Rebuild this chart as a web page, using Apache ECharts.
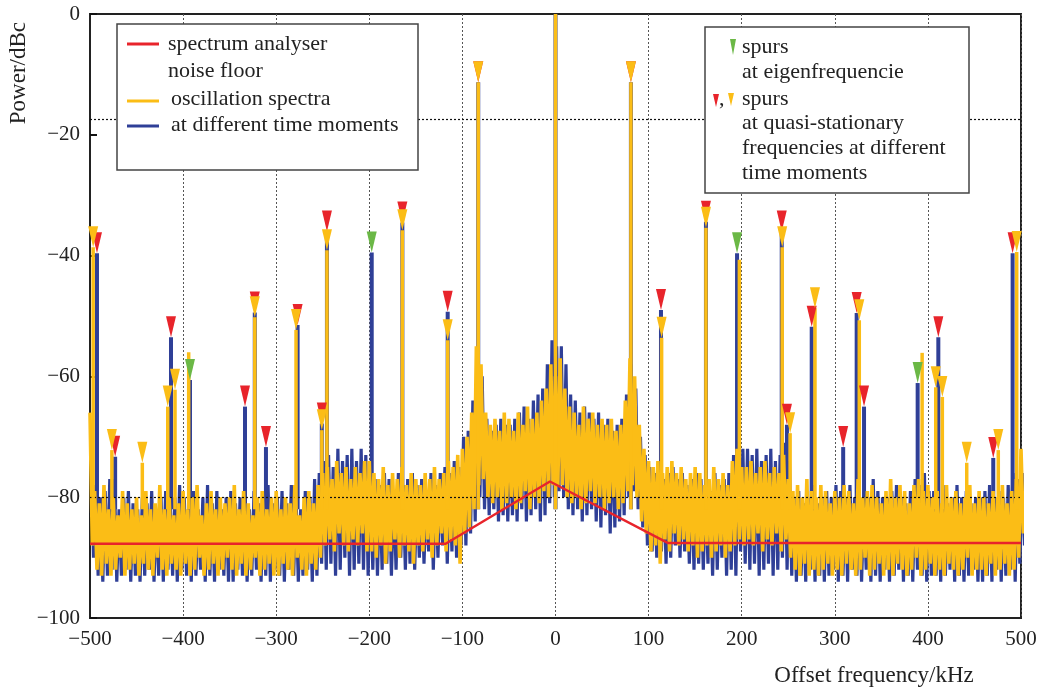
<!DOCTYPE html>
<html><head><meta charset="utf-8">
<script src="https://cdn.jsdelivr.net/npm/echarts@6/dist/echarts.min.js"></script>
<style>html,body{margin:0;padding:0;background:#fff}#c{width:1041px;height:691px}</style>
</head><body><div id="c"></div>
<script>
// ---- noise envelopes, sampled every 5 kHz from -500 to 500 kHz (dBc) ----
const noiseStart = -500, noiseStep = 5;
const yellowHi = [
-66,-79,-81,-78,-82,-80,-83,-79,-81,-82,
-80,-83,-79,-82,-81,-78,-82,-80,-83,-81,
-79,-82,-80,-78,-83,-81,-79,-82,-80,-81,
-80,-78,-82,-79,-81,-83,-80,-79,-82,-80,
-79,-82,-80,-81,-78,-83,-80,-79,-81,-78,
-76,-75,-77,-74,-76,-75,-77,-75,-76,-74,
-74,-76,-77,-75,-78,-76,-77,-75,-78,-76,
-77,-78,-76,-77,-75,-77,-76,-74,-75,-73,
-72,-70,-66,-55,-58,-66,-68,-67,-69,-66,
-67,-69,-66,-68,-65,-67,-66,-64,-62,-58,
-60,
-57,-62,-65,-66,-68,-65,-67,-66,-68,-67,
-68,-67,-69,-68,-64,-57,-60,-68,-72,-74,
-75,-74,-76,-75,-74,-76,-75,-77,-76,-75,
-76,-78,-77,-75,-77,-76,-78,-74,-72,-75,
-75,-74,-76,-75,-74,-76,-75,-76,-73,-77,
-79,-78,-80,-77,-79,-80,-78,-79,-81,-79,
-80,-78,-79,-81,-77,-80,-79,-78,-80,-81,
-79,-77,-80,-78,-79,-81,-78,-77,-79,-78,
-80,-79,-81,-78,-80,-79,-81,-80,-78,-81,
-79,-80,-81,-79,-80,-78,-81,-79,-77,-72];
const yellowLo = [
-88,-92,-93,-91,-93,-92,-90,-93,-92,-91,
-93,-91,-92,-93,-90,-92,-93,-91,-92,-93,
-91,-93,-92,-90,-93,-92,-91,-93,-92,-90,
-92,-93,-91,-93,-92,-90,-93,-92,-91,-93,
-93,-91,-92,-93,-90,-92,-93,-91,-92,-90,
-88,-87,-89,-86,-88,-89,-87,-88,-86,-89,
-89,-90,-88,-91,-89,-87,-90,-88,-89,-91,
-88,-89,-87,-90,-88,-86,-89,-87,-88,-91,
-86,-85,-82,-78,-77,-80,-81,-80,-82,-81,
-80,-82,-81,-79,-82,-80,-81,-79,-80,-78,
-78,
-78,-80,-81,-80,-82,-81,-79,-81,-80,-82,
-81,-80,-82,-81,-79,-78,-80,-84,-86,-89,
-88,-91,-87,-89,-86,-88,-87,-89,-88,-90,
-89,-88,-90,-89,-88,-90,-89,-88,-87,-88,
-87,-88,-86,-89,-87,-88,-86,-89,-87,-90,
-92,-93,-91,-93,-92,-93,-92,-91,-93,-92,
-93,-91,-92,-93,-92,-90,-93,-92,-91,-93,
-92,-93,-91,-92,-93,-92,-90,-93,-92,-91,
-93,-92,-93,-91,-92,-93,-92,-90,-93,-92,
-92,-93,-91,-93,-92,-91,-93,-92,-90,-86];
const blueHi = [
-70,-78,-80,-79,-77,-77,-82,-80,-79,-81,
-82,-80,-81,-79,-82,-80,-79,-81,-80,-78,
-80,-81,-79,-82,-80,-78,-81,-79,-82,-80,
-79,-81,-80,-78,-82,-79,-81,-80,-78,-81,
-80,-79,-81,-78,-80,-82,-79,-80,-77,-76,
-74,-73,-75,-72,-74,-73,-72,-74,-72,-73,
-75,-77,-78,-76,-77,-79,-76,-78,-77,-76,
-78,-77,-79,-76,-78,-76,-75,-76,-74,-75,
-70,-69,-64,-56,-60,-67,-69,-68,-67,-68,
-68,-67,-66,-65,-67,-64,-63,-62,-58,-54,
-55,
-55,-58,-63,-64,-66,-65,-66,-67,-66,-68,
-67,-69,-68,-67,-63,-58,-62,-70,-73,-75,
-76,-75,-77,-76,-75,-77,-76,-78,-77,-76,
-77,-78,-79,-76,-78,-77,-76,-73,-70,-72,
-72,-73,-72,-74,-73,-72,-74,-73,-71,-74,
-80,-79,-81,-80,-78,-81,-80,-79,-80,-78,
-79,-80,-78,-80,-79,-81,-80,-77,-79,-80,
-80,-79,-78,-80,-81,-79,-77,-78,-76,-79,
-79,-80,-78,-81,-80,-78,-80,-79,-81,-80,
-80,-79,-78,-80,-79,-80,-78,-76,-77,-76];
const blueLo = [
-90,-93,-94,-93,-92,-94,-93,-92,-94,-93,
-94,-93,-92,-94,-93,-94,-92,-93,-94,-92,
-93,-94,-93,-92,-94,-93,-94,-92,-93,-94,
-94,-92,-93,-94,-93,-92,-94,-93,-94,-92,
-93,-94,-92,-93,-94,-93,-92,-94,-93,-91,
-92,-91,-93,-92,-90,-93,-92,-91,-92,-93,
-92,-93,-92,-91,-93,-92,-90,-92,-91,-92,
-90,-91,-89,-92,-90,-88,-91,-89,-90,-88,
-88,-86,-84,-80,-82,-83,-82,-84,-83,-84,
-83,-84,-82,-84,-83,-82,-84,-83,-81,-80,
-79,
-80,-82,-83,-82,-84,-83,-82,-84,-85,-83,
-86,-85,-84,-83,-80,-79,-82,-85,-88,-89,
-90,-89,-91,-90,-88,-90,-89,-91,-92,-91,
-92,-91,-93,-92,-90,-93,-92,-93,-89,-91,
-92,-91,-93,-92,-91,-93,-92,-90,-92,-93,
-94,-93,-94,-92,-94,-93,-94,-93,-92,-94,
-93,-94,-92,-93,-94,-92,-94,-93,-94,-92,
-94,-93,-92,-94,-93,-94,-92,-93,-94,-93,
-93,-94,-93,-92,-94,-93,-94,-93,-92,-94,
-94,-93,-94,-92,-94,-93,-92,-94,-91,-88];

// ---- spurs (kHz, dBc) ----
const blueSpurFreq = [-492.5,-473,-413,-392.6,-333.5,-323,-311,-277,-251,-245.5,-197.4,-164.5,-115.8,-83,0,81,113.3,161.6,195,243,248.6,275.2,309,323.5,331.4,389,411.2,470.2,491];
const blueSpurPeak = [-39.6,-73.3,-53.5,-60.6,-65,-49.4,-71.7,-51.5,-67.8,-36,-39.5,-34.5,-49.3,-11.3,0,-11.3,-49,-34.4,-39.6,-36,-68,-51.8,-71.7,-49.5,-65,-61.1,-53.5,-73.5,-39.6];
const blueSpurMark = ['r','r','r','g','r','r','r','r','r','r','g','r','r','r','','r','r','r','g','r','r','r','r','r','r','g','r','r','r'];
const yellowSpurFreq = [-496.6,-476.5,-443.8,-416.5,-408.7,-394,-323,-278.7,-251,-245.5,-164.5,-115.8,-83,0,81,114,161.6,197.5,243.5,252,278.7,326.3,393.8,408.4,415.5,441.7,475.6,495.4];
const yellowSpurPeak = [-38.6,-72.2,-74.3,-65,-62.2,-56,-50.2,-52.3,-68.9,-39.1,-35.8,-54,-11.3,0,-11.3,-53.6,-35.4,-40.7,-38.6,-69.4,-48.7,-50.7,-56.1,-61.8,-63.4,-74.3,-72.2,-39.4];
const yellowSpurMark = [1,1,1,1,1,0,1,1,1,1,1,1,1,0,1,1,1,0,1,1,1,1,0,1,1,1,1,1];

// ---- analyser noise floor ----
const floorFreq = [-500,-118,-6,121,500];
const floorPower = [-87.7,-87.7,-77.4,-87.6,-87.6];

// ---- axes ----
const xTicks = [-500,-400,-300,-200,-100,0,100,200,300,400,500];
const yTicks = [0,-20,-40,-60,-80,-100];
const hGridLines = [-17.5,-80];

const C = {yellow:'#fbbd16', blue:'#2f3f97', red:'#e8242b', green:'#6bb846', text:'#222'};
const FONT = '"Liberation Serif","DejaVu Serif",serif';
const spurBase = -82;

function zigzag(hi, lo, off) {
  const pts = [];
  for (let i = 0; i < hi.length; i++) {
    const x = noiseStart + i * noiseStep + off;
    pts.push([x, hi[i]]);
    pts.push([x + noiseStep / 2, lo[i]]);
  }
  return pts;
}
function spurSeries(freq, peak, color, width, z) {
  return {
    type: 'custom', z: z, clip: true, silent: true,
    data: freq.map((f, i) => [f, peak[i], spurBase]),
    encode: {x: 0, y: 1},
    renderItem: (params, api) => {
      const p1 = api.coord([api.value(0), api.value(1)]);
      const p0 = api.coord([api.value(0), api.value(2)]);
      return {type: 'line', shape: {x1: p0[0], y1: p0[1], x2: p1[0], y2: p1[1]},
              style: {stroke: color, lineWidth: width}};
    }
  };
}
const tri = 'path://M0,0L10,0L5,20Z';
function markSeries(data, color, z) {
  return {type: 'scatter', z: z, silent: true, data: data, symbol: tri,
          symbolSize: [10, 21], symbolOffset: [0, -10.5],
          itemStyle: {color: color, opacity: 1}};
}
const redMarks = [], greenMarks = [], yellowMarks = [];
blueSpurFreq.forEach((f, i) => {
  if (blueSpurMark[i] === 'r') redMarks.push([f, blueSpurPeak[i]]);
  if (blueSpurMark[i] === 'g') greenMarks.push([f, blueSpurPeak[i]]);
});
yellowSpurFreq.forEach((f, i) => { if (yellowSpurMark[i]) yellowMarks.push([f, yellowSpurPeak[i]]); });

const minus = v => String(v).replace('-', '\u2212');
const chart = echarts.init(document.getElementById('c'), null, {renderer: 'canvas'});
chart.setOption({
  animation: false,
  backgroundColor: '#fff',
  grid: {left: 90, right: 20, top: 14, bottom: 73, show: true, borderColor: '#222', borderWidth: 2, backgroundColor: 'transparent'},
  xAxis: {
    type: 'value', min: xTicks[0], max: xTicks[xTicks.length - 1], interval: 100,
    axisLine: {show: true, onZero: false, lineStyle: {color: '#222', width: 2}},
    axisTick: {show: false},
    axisLabel: {formatter: minus, fontFamily: FONT, fontSize: 21, color: C.text, margin: 11},
    splitLine: {show: true, lineStyle: {type: [2, 2], color: '#555', width: 1}}
  },
  yAxis: {
    type: 'value', min: yTicks[yTicks.length - 1], max: yTicks[0], interval: 20,
    axisLine: {show: true, onZero: false, lineStyle: {color: '#222', width: 2}},
    axisTick: {show: true, inside: true, length: 7, lineStyle: {color: '#111', width: 2}},
    axisLabel: {formatter: minus, fontFamily: FONT, fontSize: 21, color: C.text, margin: 10},
    splitLine: {show: false}
  },
  series: [
    {type: 'line', z: 2, silent: true, symbol: 'none', data: zigzag(blueHi, blueLo, 1.25),
     lineStyle: {color: C.blue, width: 3.2}, clip: true,
     markLine: {silent: true, symbol: 'none', label: {show: false},
       lineStyle: {type: [2, 2], color: '#111', width: 1.2},
       data: hGridLines.map(v => ({yAxis: v}))}},
    spurSeries(blueSpurFreq, blueSpurPeak, C.blue, 4, 3),
    {type: 'line', z: 4, silent: true, symbol: 'none', data: zigzag(yellowHi, yellowLo, 0),
     lineStyle: {color: C.yellow, width: 3.6}, clip: true},
    spurSeries(yellowSpurFreq, yellowSpurPeak, C.yellow, 3.5, 5),
    {type: 'line', z: 6, silent: true, symbol: 'none', data: floorFreq.map((f, i) => [f, floorPower[i]]),
     lineStyle: {color: C.red, width: 2.5}},
    markSeries(redMarks, C.red, 7),
    markSeries(greenMarks, C.green, 7),
    markSeries(yellowMarks, C.yellow, 8)
  ],
  graphic: [
    {type: 'text', left: 7, top: 22, rotation: Math.PI / 2, z: 20,
     style: {text: 'Power/dBc', font: '23px ' + FONT, fill: C.text}},
    {type: 'text', x: 874, y: 676, z: 20,
     style: {text: 'Offset frequency/kHz', font: '23px ' + FONT, fill: C.text, textAlign: 'center', textVerticalAlign: 'middle'}},
    // left legend
    {type: 'rect', z: 20, shape: {x: 117, y: 24, width: 301, height: 146},
     style: {fill: '#fff', stroke: '#444', lineWidth: 1.5}},
    {type: 'line', z: 21, shape: {x1: 127, y1: 44, x2: 159, y2: 44}, style: {stroke: C.red, lineWidth: 3}},
    {type: 'line', z: 21, shape: {x1: 127, y1: 101, x2: 159, y2: 101}, style: {stroke: C.yellow, lineWidth: 3}},
    {type: 'line', z: 21, shape: {x1: 127, y1: 126, x2: 159, y2: 126}, style: {stroke: C.blue, lineWidth: 3}},
    {type: 'text', z: 21, x: 168, y: 44, style: {text: 'spectrum analyser', font: '22px ' + FONT, fill: C.text, textVerticalAlign: 'middle'}},
    {type: 'text', z: 21, x: 168, y: 71, style: {text: 'noise floor', font: '22px ' + FONT, fill: C.text, textVerticalAlign: 'middle'}},
    {type: 'text', z: 21, x: 171, y: 99, style: {text: 'oscillation spectra', font: '22px ' + FONT, fill: C.text, textVerticalAlign: 'middle'}},
    {type: 'text', z: 21, x: 171, y: 125, style: {text: 'at different time moments', font: '22px ' + FONT, fill: C.text, textVerticalAlign: 'middle'}},
    // right legend
    {type: 'rect', z: 20, shape: {x: 705, y: 27, width: 264, height: 166},
     style: {fill: '#fff', stroke: '#444', lineWidth: 1.5}},
    {type: 'polygon', z: 21, shape: {points: [[730, 39], [736, 39], [733, 55]]}, style: {fill: C.green}},
    {type: 'polygon', z: 21, shape: {points: [[713, 94], [719, 94], [716, 107]]}, style: {fill: C.red}},
    {type: 'polygon', z: 21, shape: {points: [[728, 93], [734, 93], [731, 106]]}, style: {fill: C.yellow}},
    {type: 'text', z: 21, x: 719, y: 99, style: {text: ',', font: '22px ' + FONT, fill: C.text, textVerticalAlign: 'middle'}},
    {type: 'text', z: 21, x: 742, y: 47, style: {text: 'spurs', font: '22px ' + FONT, fill: C.text, textVerticalAlign: 'middle'}},
    {type: 'text', z: 21, x: 742, y: 72, style: {text: 'at eigenfrequencie', font: '22px ' + FONT, fill: C.text, textVerticalAlign: 'middle'}},
    {type: 'text', z: 21, x: 742, y: 99, style: {text: 'spurs', font: '22px ' + FONT, fill: C.text, textVerticalAlign: 'middle'}},
    {type: 'text', z: 21, x: 742, y: 123, style: {text: 'at quasi-stationary', font: '22px ' + FONT, fill: C.text, textVerticalAlign: 'middle'}},
    {type: 'text', z: 21, x: 742, y: 148, style: {text: 'frequencies at different', font: '22px ' + FONT, fill: C.text, textVerticalAlign: 'middle'}},
    {type: 'text', z: 21, x: 742, y: 173, style: {text: 'time moments', font: '22px ' + FONT, fill: C.text, textVerticalAlign: 'middle'}}
  ]
});
</script></body></html>
